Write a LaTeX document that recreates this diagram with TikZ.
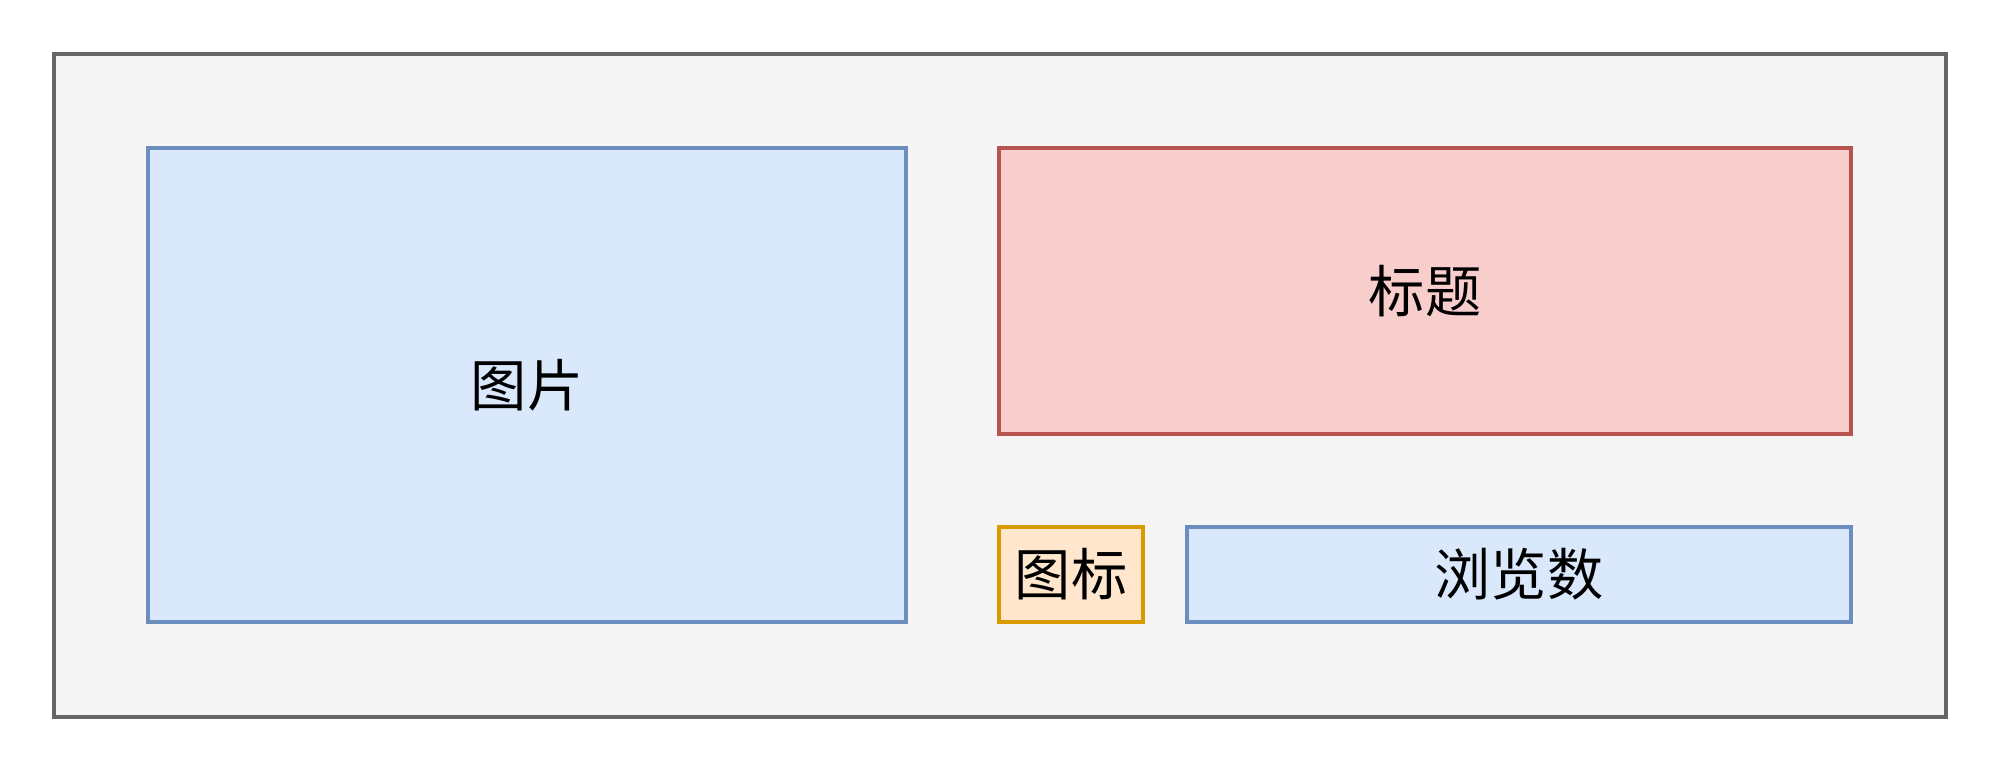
\documentclass[tikz,border=0pt]{standalone}
\usepackage{fontspec}
\newfontfamily\cjk{Noto Sans CJK SC}
\definecolor{cardfill}{HTML}{F5F5F5}
\definecolor{carddraw}{HTML}{666666}
\definecolor{bluefill}{HTML}{DAE8FC}
\definecolor{bluedraw}{HTML}{6C8EBF}
\definecolor{redfill}{HTML}{F8CECC}
\definecolor{reddraw}{HTML}{B85450}
\definecolor{orangefill}{HTML}{FFE6CC}
\definecolor{orangedraw}{HTML}{D79B00}
\begin{document}
\begin{tikzpicture}
            \tikzstyle{every node}=[rectangle,draw,inner sep=0pt,line width=1pt,font=\cjk\fontsize{16}{19}\selectfont]
            \tikzstyle{bluebox}=[fill=bluefill,draw=bluedraw]
            \useasboundingbox (0,0) rectangle (20,7.66);
            \draw (9.998,3.807) node [fill=cardfill,draw=carddraw,line width=1.1pt,minimum width=18.92cm,minimum height=6.634cm] (card) {};
            \draw (5.27,3.81) node [bluebox,minimum width=7.58cm,minimum height=4.74cm] (pic) {图片};
            \draw (14.25,4.75) node [fill=redfill,draw=reddraw,minimum width=8.52cm,minimum height=2.86cm] (title) {标题};
            \draw (10.71,1.915) node [fill=orangefill,draw=orangedraw,minimum width=1.44cm,minimum height=0.95cm] (icon) {图标};
            \draw (15.19,1.915) node [bluebox,minimum width=6.64cm,minimum height=0.95cm] (views) {浏览数};
        \end{tikzpicture}
\end{document}
